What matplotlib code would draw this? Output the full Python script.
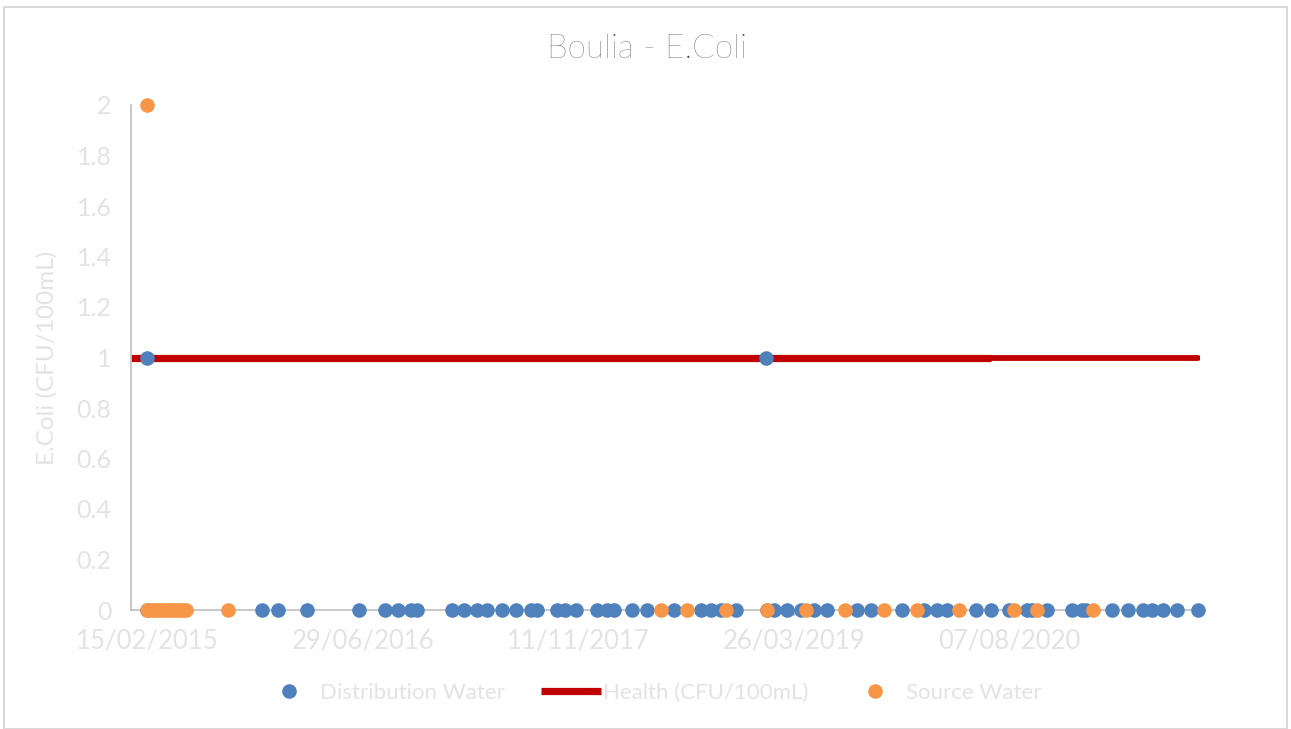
import matplotlib
matplotlib.use("Agg")
import matplotlib.pyplot as plt
import matplotlib.dates as mdates
from matplotlib.patches import Rectangle
from datetime import datetime

plt.rcParams['font.family'] = ['Lato', 'DejaVu Sans']

# Distribution water samples (date, E.Coli)
dist_dates = ["15/02/2015", "08/11/2015", "15/12/2015", "20/02/2016", "20/06/2016",
              "19/08/2016", "18/09/2016", "20/10/2016", "03/11/2016", "21/01/2017",
              "20/02/2017", "20/03/2017", "14/04/2017", "19/05/2017", "20/06/2017",
              "25/07/2017", "08/08/2017", "23/09/2017", "10/10/2017", "06/11/2017",
              "25/12/2017", "17/01/2018", "02/02/2018", "16/03/2018", "20/04/2018",
              "21/06/2018", "23/08/2018", "15/09/2018", "08/10/2018", "12/11/2018",
              "22/01/2019", "08/02/2019", "10/03/2019", "11/04/2019", "11/05/2019",
              "10/06/2019", "19/08/2019", "20/09/2019", "01/12/2019", "21/01/2020",
              "20/02/2020", "14/03/2020", "20/05/2020", "24/06/2020", "05/08/2020",
              "15/09/2020", "27/09/2020", "01/11/2020", "29/12/2020", "21/01/2021",
              "30/01/2021", "31/03/2021", "09/05/2021", "13/06/2021", "02/07/2021",
              "29/07/2021", "29/08/2021", "18/10/2021",
              "15/02/2015", "20/01/2019"]
dist_vals = [0] * 58 + [1, 1]

# Source water samples
src_dates = ["15/02/2015", "22/02/2015", "01/03/2015", "08/03/2015", "15/03/2015",
             "22/03/2015", "29/03/2015", "05/04/2015", "12/04/2015", "19/04/2015",
             "26/04/2015", "03/05/2015", "10/05/2015", "17/05/2015", "21/08/2015",
             "22/05/2018", "21/07/2018", "20/10/2018", "22/01/2019", "23/04/2019",
             "22/07/2019", "20/10/2019", "05/01/2020", "11/04/2020", "16/08/2020",
             "09/10/2020", "15/02/2021",
             "15/02/2015"]
src_vals = [0] * 27 + [2]

# Health guideline (two stretches of the series)
health_dates_a = ["09/01/2015", "24/06/2020"]
health_dates_b = ["24/06/2020", "18/10/2021"]
health_vals = [1, 1]

tick_dates = ["15/02/2015", "29/06/2016", "11/11/2017", "26/03/2019", "07/08/2020"]


def to_dt(lst):
    return [datetime.strptime(s, "%d/%m/%Y") for s in lst]


blue = "#4f81bd"
orange = "#f79646"
red = "#c00000"
light = "#e3e3e3"
axis_col = "#bfbfbf"

fig = plt.figure(figsize=(12.91, 7.29), dpi=100)
ax = fig.add_axes([131 / 1291, 1 - 610 / 729, (1200 - 131) / 1291, (610 - 105) / 729])

ax.plot(to_dt(health_dates_a), health_vals, color=red, lw=5.2, solid_capstyle='butt',
        label="Health (CFU/100mL)", zorder=2)
ax.plot(to_dt(health_dates_b), health_vals, color=red, lw=4.2, solid_capstyle='round',
        zorder=2)
ax.plot(to_dt(dist_dates), dist_vals, 'o', color=blue, ms=10.5, mew=0,
        label="Distribution Water", clip_on=False, zorder=3)
ax.plot(to_dt(src_dates), src_vals, 'o', color=orange, ms=10.5, mew=0,
        label="Source Water", clip_on=False, zorder=4)

ax.set_xlim(datetime(2015, 1, 9), datetime(2021, 10, 22))
ax.set_ylim(0, 2)
ax.set_yticks([i * 0.2 for i in range(11)])
ax.set_yticklabels(["0", "0.2", "0.4", "0.6", "0.8", "1", "1.2", "1.4", "1.6", "1.8", "2"])
ax.set_xticks(to_dt(tick_dates))
ax.xaxis.set_major_formatter(mdates.DateFormatter("%d/%m/%Y"))

for s in ["top", "right"]:
    ax.spines[s].set_visible(False)
ax.spines["left"].set_color(axis_col)
ax.spines["bottom"].set_color(axis_col)
ax.spines["left"].set_linewidth(1.2)
ax.spines["bottom"].set_linewidth(1.2)
ax.tick_params(axis='y', length=0, pad=14, labelsize=18, labelcolor=light)
ax.tick_params(axis='x', length=4, width=1.2, color=axis_col, pad=9,
               labelsize=18.5, labelcolor=light)

ax.set_ylabel("E.Coli (CFU/100mL)", fontsize=17.5, color=light)
ax.yaxis.set_label_coords(-0.069, 0.5)
fig.text(647 / 1291, 1 - 49 / 729, "Boulia - E.Coli", ha='center', va='center',
         fontsize=24, fontweight='light', color="#3f3f3f")

h, l = ax.get_legend_handles_labels()
order = [1, 0, 2]
fig.legend([h[i] for i in order], [l[i] for i in order], loc='center',
           bbox_to_anchor=(650 / 1291, 1 - 693 / 729), ncol=3, frameon=False,
           fontsize=16, labelcolor=light, handlelength=2.7, handletextpad=0.05,
           columnspacing=1.65)

fig.patches.append(Rectangle((4 / 1291, 0), 1283 / 1291, 1 - 7 / 729,
                             transform=fig.transFigure, fill=False,
                             edgecolor="#d9d9d9", lw=1.5))

fig.savefig("out.png", dpi=100)
